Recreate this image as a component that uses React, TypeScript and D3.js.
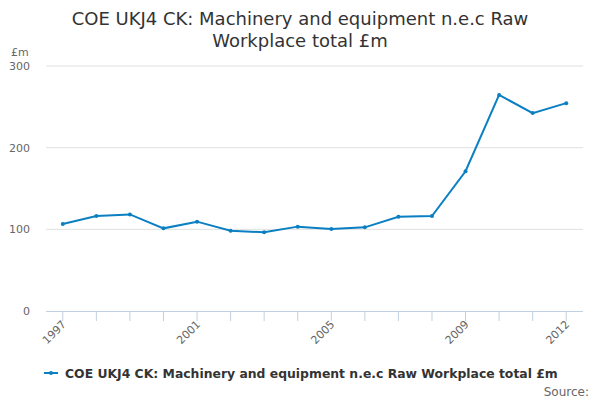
import React from "react";
import * as d3 from "d3";

const years = ["1997","1998","1999","2000","2001","2002","2003","2004","2005","2006","2007","2008","2009","2010","2011","2012"];
const values = [106.5, 116.2, 118.3, 101.2, 109.4, 98.4, 96.3, 103.3, 100.4, 102.4, 115.5, 116.2, 171.1, 264.6, 242.3, 254.5];
const yTicks = [0, 100, 200, 300];
const labeledYears = ["1997", "2001", "2005", "2009", "2012"];
const titleLines = ["COE UKJ4 CK: Machinery and equipment n.e.c Raw", "Workplace total £m"];
const seriesName = "COE UKJ4 CK: Machinery and equipment n.e.c Raw Workplace total £m";

const W = 600, H = 400;
const left = 46, right = 583, top = 66, bottom = 311;
const color = "#0a7fc2";
const font = "DejaVu Sans, sans-serif";

export default function App() {
  const x = d3.scalePoint<string>().domain(years).range([left, right]).padding(0.5);
  const y = d3.scaleLinear().domain([0, 300]).range([bottom, top]);
  const line = d3.line<number>().x((_, i) => x(years[i])!).y(d => y(d));
  return (
    <svg width={W} height={H} style={{ position: "absolute", left: 0, top: 0, fontFamily: font }}>
      <rect width={W} height={H} fill="#fff" />
      {titleLines.map((t, i) => (
        <text key={i} x={300} y={25 + i * 22} textAnchor="middle" fontSize={18} fill="#333">{t}</text>
      ))}
      <text x={11} y={56} fontSize={11} fill="#666">£m</text>
      {yTicks.map(t => (
        <g key={t}>
          {t > 0 && <line x1={left} x2={right} y1={y(t)} y2={y(t)} stroke="#e0e0e0" strokeWidth={1} />}
          <text x={30} y={y(t) + 4} textAnchor="end" fontSize={11} fill="#666">{t}</text>
        </g>
      ))}
      <line x1={left} x2={right} y1={bottom + 0.5} y2={bottom + 0.5} stroke="#c0d0e0" strokeWidth={1} />
      {years.map(yr => (
        <line key={yr} x1={x(yr)!} x2={x(yr)!} y1={bottom} y2={bottom + 10} stroke="#c0d0e0" strokeWidth={1} />
      ))}
      {labeledYears.map(yr => (
        <text key={yr} transform={`translate(${x(yr)! + 4},${bottom + 14}) rotate(-45)`} textAnchor="end" fontSize={11} fill="#666">{yr}</text>
      ))}
      <path d={line(values) ?? ""} fill="none" stroke={color} strokeWidth={2} />
      {values.map((v, i) => (
        <circle key={i} cx={x(years[i])!} cy={y(v)} r={2} fill={color} />
      ))}
      <line x1={44} x2={58} y1={373} y2={373} stroke={color} strokeWidth={2} />
      <circle cx={51} cy={373} r={2} fill={color} />
      <text x={65} y={378} fontSize={12.4} fontWeight="bold" fill="#333">{seriesName}</text>
      <text x={589} y={396} textAnchor="end" fontSize={12} fill="#666">Source:</text>
    </svg>
  );
}
